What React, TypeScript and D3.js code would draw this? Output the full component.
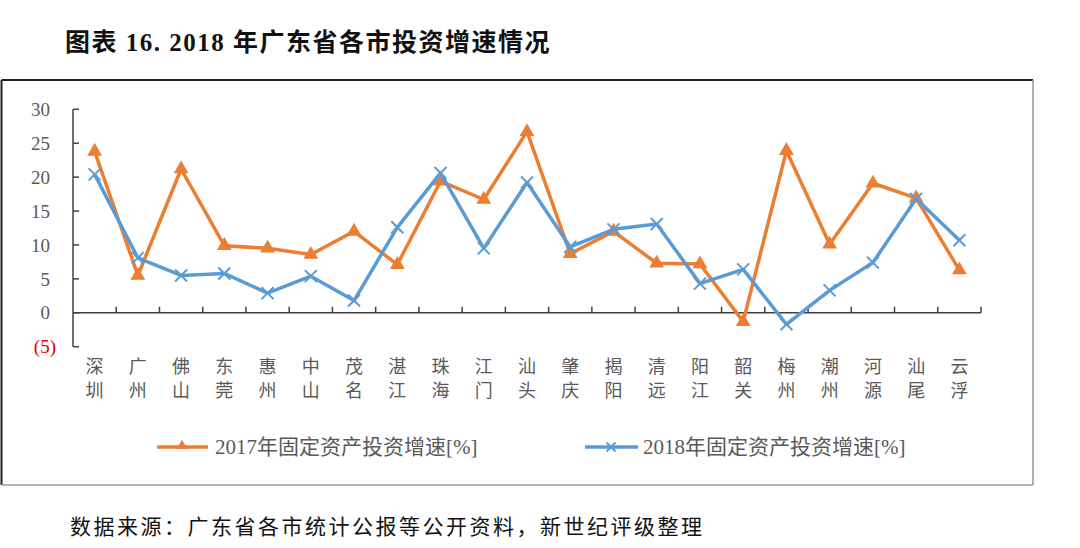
import React from "react";
import * as d3 from "d3";

const categories = ["深圳","广州","佛山","东莞","惠州","中山","茂名","湛江","珠海","江门","汕头","肇庆","揭阳","清远","阳江","韶关","梅州","潮州","河源","汕尾","云浮"];
const growth2017 = [23.8,5.5,21.2,9.9,9.5,8.6,12.0,7.1,19.4,16.7,26.7,8.7,12.0,7.3,7.2,-1.3,23.9,10.1,19.1,16.9,6.3];
const growth2018 = [20.4,8.1,5.5,5.8,2.9,5.4,1.8,12.6,20.6,9.5,19.2,9.7,12.3,13.1,4.3,6.4,-1.7,3.3,7.4,16.8,10.7];
const yTicks = [30,25,20,15,10,5,0,-5];
const seriesNames = ["2017年固定资产投资增速[%]","2018年固定资产投资增速[%]"];
const title = "图表 16. 2018 年广东省各市投资增速情况";
const source = "数据来源：广东省各市统计公报等公开资料，新世纪评级整理";

const ORANGE = "#ED7D31";
const BLUE = "#5B9BD5";
const GRAY = "#595959";
const LATIN = "'Liberation Serif','Noto Sans CJK SC',serif";
const CJK = "'Noto Sans CJK SC',sans-serif";

export default function App() {
  const W = 1080, H = 548;
  const x = d3.scaleBand<string>().domain(categories).range([73, 981]);
  const y = d3.scaleLinear().domain([-5, 30]).range([346.7, 109.3]);
  const cx = (c: string) => (x(c) as number) + x.bandwidth() / 2;
  const line = d3.line<number>().x((_, i) => cx(categories[i])).y(d => y(d));
  const tri = d3.symbol().type(d3.symbolTriangle).size(95)();
  const triSmall = d3.symbol().type(d3.symbolTriangle).size(50)();
  const xm = (s: number) => `M${-s},${-s}L${s},${s}M${-s},${s}L${s},${-s}`;
  const boundaries = categories.map(c => (x(c) as number) + x.bandwidth());

  return (
    <svg width={W} height={H} style={{ position: "absolute", left: 0, top: 0, background: "#fff" }}>
      <rect x={0} y={0} width={W} height={H} fill="#fff" />
      <text x={65} y={51} fontFamily={LATIN} fontWeight="bold" fontSize={25} letterSpacing={1.5} fill="#111">{title}</text>
      {/* frame */}
      <line x1={1.5} y1={80} x2={1033} y2={80} stroke="#222" strokeWidth={2} />
      <line x1={1.5} y1={80} x2={1.5} y2={485} stroke="#222" strokeWidth={2} />
      <line x1={1033} y1={80} x2={1033} y2={485} stroke="#999" strokeWidth={1.5} />
      <line x1={1.5} y1={485} x2={1033} y2={485} stroke="#999" strokeWidth={1.5} />
      {/* y axis */}
      <line x1={73} y1={y(30)} x2={73} y2={y(-5)} stroke="#404040" strokeWidth={1.5} />
      {yTicks.map(t => (
        <g key={t}>
          <line x1={73} x2={79} y1={y(t)} y2={y(t)} stroke="#404040" strokeWidth={1.5} />
          <text x={t < 0 ? 56 : 50} y={y(t)} dy="0.35em" textAnchor="end" fontFamily={LATIN} fontSize={19}
            fill={t < 0 ? "#E00000" : GRAY}>{t < 0 ? `(${-t})` : t}</text>
        </g>
      ))}
      {/* x axis */}
      <line x1={73} x2={981} y1={y(0)} y2={y(0)} stroke="#404040" strokeWidth={1.5} />
      {boundaries.map((b, i) => (
        <line key={i} x1={b} x2={b} y1={y(0)} y2={y(0) - 6} stroke="#404040" strokeWidth={1.5} />
      ))}
      {categories.map(c => (
        <g key={c} fontFamily={CJK} fontSize={18} fill={GRAY} textAnchor="middle">
          <text x={cx(c)} y={373}>{c[0]}</text>
          <text x={cx(c)} y={397}>{c[1]}</text>
        </g>
      ))}
      {/* series */}
      <path d={line(growth2017) || ""} fill="none" stroke={ORANGE} strokeWidth={3.5} strokeLinejoin="round" />
      {growth2017.map((v, i) => (
        <path key={i} d={tri || ""} transform={`translate(${cx(categories[i])},${y(v)})`} fill={ORANGE} />
      ))}
      <path d={line(growth2018) || ""} fill="none" stroke={BLUE} strokeWidth={3.5} strokeLinejoin="round" />
      {growth2018.map((v, i) => (
        <path key={i} d={xm(6)} transform={`translate(${cx(categories[i])},${y(v)})`} stroke={BLUE} strokeWidth={2} fill="none" />
      ))}
      {/* legend */}
      <line x1={157} x2={208} y1={447} y2={447} stroke={ORANGE} strokeWidth={3.5} />
      <path d={triSmall || ""} transform="translate(182,446)" fill={ORANGE} />
      <text x={215} y={447} dy="0.35em" fontFamily={LATIN} fontSize={21} fill={GRAY}>{seriesNames[0]}</text>
      <line x1={585} x2={638} y1={447} y2={447} stroke={BLUE} strokeWidth={3.5} />
      <path d={xm(4.5)} transform="translate(611,447)" stroke={BLUE} strokeWidth={2} fill="none" />
      <text x={643} y={447} dy="0.35em" fontFamily={LATIN} fontSize={21} fill={GRAY}>{seriesNames[1]}</text>
      {/* source */}
      <text x={70} y={534} fontFamily={CJK} fontSize={21} fill="#111" letterSpacing={2.5}>{source}</text>
    </svg>
  );
}
